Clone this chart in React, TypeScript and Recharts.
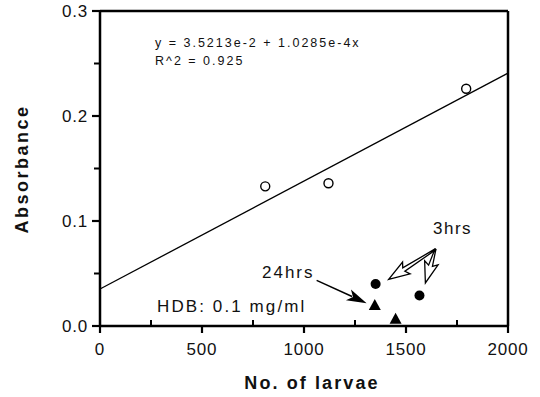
import React from 'react';
import { ComposedChart, Scatter, XAxis, YAxis, ReferenceLine, Customized } from 'recharts';

const FONT = '"Liberation Sans", Arial, sans-serif';

const xTicks = [0, 250, 500, 750, 1000, 1250, 1500, 1750, 2000];
const yTicks = [0, 0.05, 0.1, 0.15, 0.2, 0.25, 0.3];

const openCircles = [
  { x: 810, y: 0.133 },
  { x: 1120, y: 0.136 },
  { x: 1795, y: 0.226 },
];
const filledCircles = [
  { x: 1351, y: 0.040 },
  { x: 1566, y: 0.029 },
];
const triangles = [
  { x: 1347, y: 0.020 },
  { x: 1449, y: 0.007 },
];
// regression line y = 3.5213e-2 + 1.0285e-4x, endpoints
const fitLine = [
  { x: 0, y: 0.0352 },
  { x: 2000, y: 0.2409 },
];
// arrows: [tail, tip]
const arrow24 = [
  { x: 1062, y: 0.0435 },
  { x: 1307, y: 0.0217 },
];
const arrows3 = [
  [{ x: 1644, y: 0.073 }, { x: 1415, y: 0.0445 }],
  [{ x: 1644, y: 0.073 }, { x: 1595, y: 0.041 }],
];

const XTick = (props: any) => {
  const { x, y, payload } = props;
  const v = payload.value;
  const major = v % 500 === 0;
  if (major) {
    return (
      <g>
        <line x1={x} y1={y} x2={x} y2={y + 7} stroke="#000" strokeWidth={2.2} />
        <text x={x} y={y + 29} textAnchor="middle" fontSize={17} letterSpacing={0.8} fontFamily={FONT} fill="#111">{v}</text>
      </g>
    );
  }
  return <line x1={x} y1={y} x2={x} y2={y - 6} stroke="#000" strokeWidth={2} />;
};

const YTick = (props: any) => {
  const { x, y, payload } = props;
  const v = payload.value;
  const major = Math.round(v * 100) % 10 === 0;
  if (major) {
    return (
      <g>
        <line x1={x - 8} y1={y} x2={x} y2={y} stroke="#000" strokeWidth={2.2} />
        <text x={x - 12} y={y + 6} textAnchor="end" fontSize={17} letterSpacing={0.8} fontFamily={FONT} fill="#111">{v.toFixed(1)}</text>
      </g>
    );
  }
  return <line x1={x - 6} y1={y} x2={x} y2={y} stroke="#000" strokeWidth={2} />;
};

const openShape = (p: any) => <circle cx={p.cx} cy={p.cy} r={4.5} fill="#fff" stroke="#000" strokeWidth={1.4} />;
const filledShape = (p: any) => <circle cx={p.cx} cy={p.cy} r={5} fill="#000" />;
const triShape = (p: any) => (
  <polygon points={`${p.cx},${p.cy - 6} ${p.cx - 6},${p.cy + 5} ${p.cx + 6},${p.cy + 5}`} fill="#000" />
);

const filledArrow = (p: any) => {
  const { x1, y1, x2, y2 } = p;
  const dx = x2 - x1, dy = y2 - y1;
  const len = Math.sqrt(dx * dx + dy * dy);
  const ux = dx / len, uy = dy / len;
  const hl = 20, hw = 6;
  const bx = x2 - ux * hl, by = y2 - uy * hl;
  const nx = -uy, ny = ux;
  return (
    <g>
      <line x1={x1} y1={y1} x2={bx + ux * 4} y2={by + uy * 4} stroke="#000" strokeWidth={1.5} />
      <polygon
        points={`${x2},${y2} ${bx + nx * hw},${by + ny * hw} ${bx + ux * 5},${by + uy * 5} ${bx - nx * hw},${by - ny * hw}`}
        fill="#000"
      />
    </g>
  );
};

const hollowArrow = (p: any) => {
  const { x1, y1, x2, y2 } = p;
  const dx = x2 - x1, dy = y2 - y1;
  const len = Math.sqrt(dx * dx + dy * dy);
  const ux = dx / len, uy = dy / len;
  const hl = 18, hw = 7, sw = 2;
  const bx = x2 - ux * hl, by = y2 - uy * hl;
  const nx = -uy, ny = ux;
  const pts = [
    [x1 + nx * 0.5, y1 + ny * 0.5],
    [bx + nx * sw, by + ny * sw],
    [bx + nx * hw - ux * 3, by + ny * hw - uy * 3],
    [x2, y2],
    [bx - nx * hw - ux * 3, by - ny * hw - uy * 3],
    [bx - nx * sw, by - ny * sw],
    [x1 - nx * 0.5, y1 - ny * 0.5],
  ];
  return (
    <polygon points={pts.map((q) => `${q[0]},${q[1]}`).join(' ')} fill="#fff" stroke="#000" strokeWidth={1.3} strokeLinejoin="miter" />
  );
};

const Texts = () => (
  <g fontFamily={FONT} fill="#111">
    <text x={155} y={47} fontSize={12.5} letterSpacing={2}>y = 3.5213e-2 + 1.0285e-4x</text>
    <text x={155} y={65} fontSize={12.5} letterSpacing={2}>R^2 = 0.925</text>
    <text x={157} y={312} fontSize={17} letterSpacing={2.1}>HDB: 0.1 mg/ml</text>
    <text x={262} y={278} fontSize={17} letterSpacing={2}>24hrs</text>
    <text x={433} y={234} fontSize={17} letterSpacing={1.5}>3hrs</text>
    <text x={312} y={389} fontSize={18} fontWeight="bold" textAnchor="middle" letterSpacing={2.1}>No. of larvae</text>
    <text x={0} y={0} fontSize={18} fontWeight="bold" textAnchor="middle" letterSpacing={2.5} transform="translate(28,169) rotate(-90)">Absorbance</text>
  </g>
);

export default function App() {
  return (
    <div style={{ position: 'absolute', left: 0, top: 0, background: '#fff' }}>
      <ComposedChart width={540} height={397} margin={{ top: 11, right: 32, left: 40, bottom: 41 }}>
        <XAxis
          type="number"
          dataKey="x"
          domain={[0, 2000]}
          ticks={xTicks}
          interval={0}
          height={30}
          tickSize={0}
          tickMargin={0}
          tickLine={false}
          tick={<XTick />}
          axisLine={{ stroke: '#000', strokeWidth: 2.5 }}
        />
        <YAxis
          type="number"
          dataKey="y"
          domain={[0, 0.3]}
          ticks={yTicks}
          interval={0}
          width={60}
          tickSize={0}
          tickMargin={0}
          tickLine={false}
          tick={<YTick />}
          axisLine={{ stroke: '#000', strokeWidth: 2.5 }}
        />
        <ReferenceLine y={0.3} stroke="#000" strokeWidth={2.5} />
        <ReferenceLine x={2000} stroke="#000" strokeWidth={2.5} />
        <ReferenceLine segment={fitLine} stroke="#000" strokeWidth={1.3} />
        <ReferenceLine segment={arrow24} shape={filledArrow} />
        {arrows3.map((seg, i) => (
          <ReferenceLine key={i} segment={seg} shape={hollowArrow} />
        ))}
        <Scatter data={openCircles} shape={openShape} isAnimationActive={false} />
        <Scatter data={filledCircles} shape={filledShape} isAnimationActive={false} />
        <Scatter data={triangles} shape={triShape} isAnimationActive={false} />
        <Customized component={Texts} />
      </ComposedChart>
    </div>
  );
}
